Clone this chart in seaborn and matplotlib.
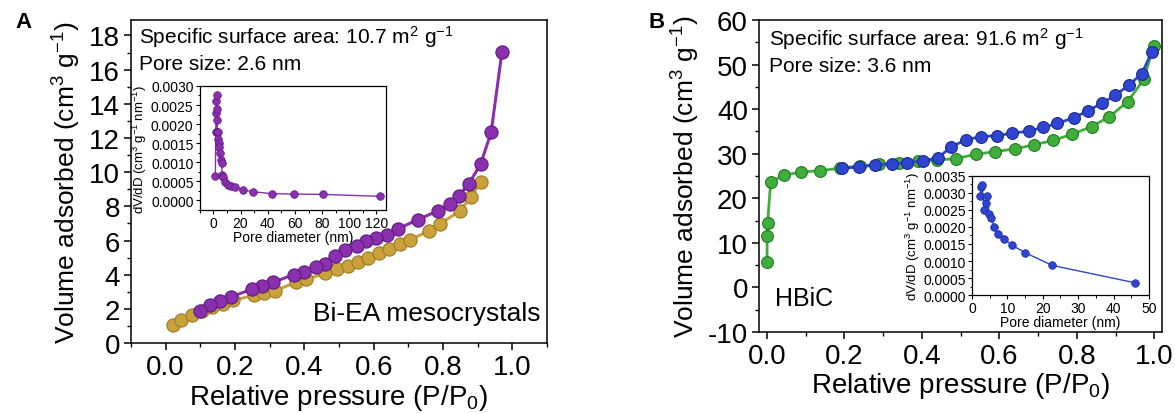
import numpy as np
import pandas as pd
import seaborn as sns
import matplotlib
matplotlib.use("Agg")
import matplotlib.pyplot as plt
from matplotlib.ticker import MultipleLocator

# ---------------- data ----------------
# Panel A: Bi-EA mesocrystals
a_ads_p = [0.02, 0.045, 0.075, 0.105, 0.135, 0.165, 0.195, 0.255, 0.285, 0.315, 0.375, 0.405,
           0.46, 0.495, 0.525, 0.555, 0.585, 0.615, 0.645, 0.675, 0.705, 0.76, 0.79, 0.85, 0.88, 0.91]
a_ads_v = [1.07, 1.35, 1.62, 1.85, 2.08, 2.3, 2.5, 2.8, 2.95, 3.05, 3.55, 3.72,
           4.08, 4.33, 4.52, 4.77, 5.0, 5.25, 5.5, 5.78, 6.02, 6.58, 6.95, 7.75, 8.55, 9.42]
a_des_p = [0.97, 0.939, 0.909, 0.875, 0.845, 0.819, 0.787, 0.728, 0.67, 0.638, 0.608, 0.579,
           0.552, 0.518, 0.488, 0.459, 0.435, 0.398, 0.369, 0.309, 0.277, 0.248, 0.189, 0.157,
           0.128, 0.099]
a_des_v = [17.03, 12.34, 10.49, 9.32, 8.63, 8.14, 7.75, 7.23, 6.68, 6.33, 6.15, 5.96,
           5.70, 5.45, 5.12, 4.63, 4.43, 4.18, 4.0, 3.55, 3.36, 3.14, 2.71, 2.48,
           2.25, 1.89]
a_pore_d = [1.5, 1.8, 2.0, 2.2, 2.4, 2.6, 2.8, 3.0, 3.3, 3.6, 4.0, 4.5, 5.0, 5.5, 6.0, 6.5,
            7.2, 8.5, 10.5, 13, 16, 21.5, 29.5, 43, 59.5, 81, 122.5]
a_pore_v = [0.00064, 0.0018, 0.0023, 0.0026, 0.00276, 0.0024, 0.0021, 0.0018, 0.0018, 0.0016,
            0.0015, 0.0014, 0.00125, 0.00105, 0.00098, 0.00067, 0.00062, 0.00047, 0.0004,
            0.00037, 0.00034, 0.00027, 0.00022, 0.00017, 0.00016, 0.00015, 0.0001]

# Panel B: HBiC
b_ads_p = [0.0005, 0.001, 0.002, 0.01, 0.045, 0.087, 0.137, 0.19, 0.24, 0.29, 0.34, 0.389,
           0.439, 0.488, 0.54, 0.59, 0.64, 0.689, 0.739, 0.788, 0.838, 0.884, 0.931, 0.973, 0.998]
b_ads_v = [5.76, 11.5, 14.4, 23.65, 25.2, 25.9, 26.2, 26.8, 27.3, 27.6, 27.9, 28.3,
           28.6, 28.9, 29.9, 30.5, 31.1, 32.0, 33.0, 34.4, 36.1, 38.3, 41.7, 46.7, 54.3]
b_des_p = [0.993, 0.968, 0.934, 0.899, 0.864, 0.828, 0.792, 0.75, 0.713, 0.676, 0.634, 0.594,
           0.552, 0.515, 0.475, 0.442, 0.402, 0.361, 0.322, 0.28, 0.238, 0.194]
b_des_v = [52.8, 48.0, 45.4, 43.1, 41.3, 39.6, 38.1, 36.8, 35.9, 35.1, 34.6, 34.1,
           33.8, 33.2, 31.5, 29.1, 28.4, 28.0, 27.8, 27.5, 27.0, 26.8]
b_pore_d = [2.35, 2.6, 2.9, 3.4, 3.9, 4.3, 4.9, 5.5, 6.3, 7.4, 9.0, 11.2, 15.1, 22.7, 46.0]
b_pore_v = [0.00290, 0.00317, 0.00323, 0.00250, 0.00272, 0.00290, 0.00238, 0.00225, 0.00200,
            0.00178, 0.00166, 0.00147, 0.00124, 0.00087, 0.00036]

# ---------------- style ----------------
sns.set_theme(style="ticks")
plt.rcParams['font.family'] = ['Liberation Sans', 'DejaVu Sans']
plt.rcParams['mathtext.fontset'] = 'custom'
plt.rcParams['mathtext.rm'] = 'Liberation Sans'
plt.rcParams['mathtext.it'] = 'Liberation Sans'
plt.rcParams['axes.linewidth'] = 1.1
plt.rcParams['xtick.direction'] = 'out'
plt.rcParams['ytick.direction'] = 'out'
plt.rcParams['axes.unicode_minus'] = False
for k in ['text.color', 'axes.labelcolor', 'xtick.color', 'ytick.color', 'axes.edgecolor']:
    plt.rcParams[k] = 'black'

PURPLE, PURPLE_E = "#8a2fae", "#5e1a7e"
GOLD, GOLD_E = "#c9a23c", "#9c7a22"
GREEN, GREEN_E = "#3fae3a", "#237a20"
BLUE, BLUE_E = "#2f45d0", "#1a2a95"

fig = plt.figure(figsize=(11.75, 4.14), dpi=100)

def line(ax, x, y, c, ec, ms, lw):
    sns.lineplot(x=x, y=y, ax=ax, color=c, marker='o', markersize=ms,
                 markeredgecolor=ec, markeredgewidth=0.8, linewidth=lw,
                 estimator=None, sort=False, legend=False)

def style_main(ax, fs):
    for s in ax.spines.values():
        s.set_visible(True)
        s.set_color('black')
        s.set_linewidth(1.1)
    ax.tick_params(which='major', length=5, width=1.1, labelsize=fs, colors='black', pad=3)
    ax.tick_params(which='minor', length=3, width=1.0, colors='black')
    ax.tick_params(top=False, right=False, which='both')

def style_inset(ax):
    for s in ax.spines.values():
        s.set_visible(True); s.set_color('black'); s.set_linewidth(0.9)
    ax.tick_params(which='major', length=3, width=0.8, labelsize=10, pad=1.5, colors='black')
    ax.tick_params(which='minor', length=1.8, width=0.7, colors='black')
    ax.set_xlabel("Pore diameter (nm)", fontsize=10, labelpad=0)
    ax.set_ylabel("dV/dD (cm$^3$ g$^{-1}$ nm$^{-1}$)", fontsize=9.5, labelpad=1)

# ---------------- Panel A ----------------
axA = fig.add_axes([0.1115, 0.169, 0.354, 0.780])
line(axA, a_ads_p, a_ads_v, GOLD, GOLD_E, 9.5, 2.2)
line(axA, a_des_p, a_des_v, PURPLE, PURPLE_E, 9.5, 2.2)
axA.set_xlim(-0.1, 1.1)
axA.set_ylim(0, 18.9)
axA.set_xticks([0, 0.2, 0.4, 0.6, 0.8, 1.0])
axA.set_xticklabels(["0.0", "0.2", "0.4", "0.6", "0.8", "1.0"])
axA.xaxis.set_minor_locator(MultipleLocator(0.1))
axA.yaxis.set_major_locator(MultipleLocator(2))
axA.yaxis.set_minor_locator(MultipleLocator(1))
style_main(axA, 20)
axA.set_xlabel("Relative pressure (P/P$_0$)", fontsize=20, labelpad=1)
axA.set_ylabel("Volume adsorbed (cm$^3$ g$^{-1}$)", fontsize=19, labelpad=4)
axA.text(0.02, 0.99, "Specific surface area: 10.7 m$^2$ g$^{-1}$", transform=axA.transAxes,
         fontsize=15, va='top', ha='left')
axA.text(0.02, 0.895, "Pore size: 2.6 nm", transform=axA.transAxes,
         fontsize=15, va='top', ha='left')
axA.text(0.985, 0.055, "Bi-EA mesocrystals", transform=axA.transAxes,
         fontsize=19, va='bottom', ha='right')
fig.text(0.013, 0.945, "A", fontsize=16, fontweight='bold', va='center')

# inset A
iA = fig.add_axes([0.170, 0.4903, 0.1585, 0.2996])
sns.lineplot(x=a_pore_d, y=a_pore_v, ax=iA, color=PURPLE, marker='o', markersize=5.5,
             markeredgecolor=PURPLE_E, markeredgewidth=0.5, linewidth=1.0,
             estimator=None, sort=False, legend=False)
iA.set_xlim(-10, 127)
iA.set_ylim(-0.00026, 0.0030)
iA.set_xticks([0, 20, 40, 60, 80, 100, 120])
iA.xaxis.set_minor_locator(MultipleLocator(10))
iA.set_yticks([0, 0.0005, 0.0010, 0.0015, 0.0020, 0.0025, 0.0030])
iA.set_yticklabels(["0.0000", "0.0005", "0.0010", "0.0015", "0.0020", "0.0025", "0.0030"])
iA.yaxis.set_minor_locator(MultipleLocator(0.00025))
style_inset(iA)

# ---------------- Panel B ----------------
axB = fig.add_axes([0.646, 0.1957, 0.343, 0.7533])
line(axB, b_ads_p, b_ads_v, GREEN, GREEN_E, 8.5, 2.0)
line(axB, b_des_p, b_des_v, BLUE, BLUE_E, 8.5, 2.0)
axB.set_xlim(-0.02, 1.02)
axB.set_ylim(-10, 60)
axB.set_xticks([0, 0.2, 0.4, 0.6, 0.8, 1.0])
axB.set_xticklabels(["0.0", "0.2", "0.4", "0.6", "0.8", "1.0"])
axB.xaxis.set_minor_locator(MultipleLocator(0.1))
axB.yaxis.set_major_locator(MultipleLocator(10))
axB.yaxis.set_minor_locator(MultipleLocator(5))
style_main(axB, 20)
axB.set_xlabel("Relative pressure (P/P$_0$)", fontsize=20, labelpad=1)
axB.set_ylabel("Volume adsorbed (cm$^3$ g$^{-1}$)", fontsize=19, labelpad=4)
axB.text(0.025, 0.985, "Specific surface area: 91.6 m$^2$ g$^{-1}$", transform=axB.transAxes,
         fontsize=15, va='top', ha='left')
axB.text(0.025, 0.885, "Pore size: 3.6 nm", transform=axB.transAxes,
         fontsize=15, va='top', ha='left')
axB.text(0.04, 0.07, "HBiC", transform=axB.transAxes,
         fontsize=18, va='bottom', ha='left')
fig.text(0.552, 0.945, "B", fontsize=16, fontweight='bold', va='center')

# inset B
iB = fig.add_axes([0.8272, 0.285, 0.1507, 0.2875])
sns.lineplot(x=b_pore_d, y=b_pore_v, ax=iB, color=BLUE, marker='o', markersize=5.5,
             markeredgecolor=BLUE_E, markeredgewidth=0.5, linewidth=1.0,
             estimator=None, sort=False, legend=False)
iB.set_xlim(0, 50)
iB.set_ylim(0, 0.0035)
iB.set_xticks([0, 10, 20, 30, 40, 50])
iB.xaxis.set_minor_locator(MultipleLocator(5))
iB.set_yticks([0, 0.0005, 0.0010, 0.0015, 0.0020, 0.0025, 0.0030, 0.0035])
iB.set_yticklabels(["0.0000", "0.0005", "0.0010", "0.0015", "0.0020", "0.0025", "0.0030", "0.0035"])
iB.yaxis.set_minor_locator(MultipleLocator(0.00025))
style_inset(iB)

fig.savefig("out.png", dpi=100, facecolor='white')
